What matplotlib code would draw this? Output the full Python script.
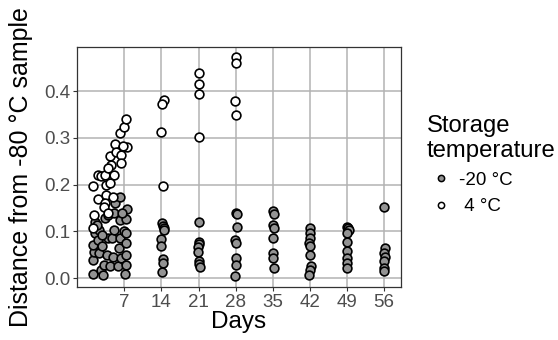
import numpy as np
import matplotlib
matplotlib.use("Agg")
import matplotlib.pyplot as plt
from matplotlib.lines import Line2D

plt.rcParams["font.family"] = ["Liberation Sans", "DejaVu Sans"]

# ── data ─────────────────────────────────────────────────────────────────────
day_ticks = [7, 14, 21, 28, 35, 42, 49, 56]
y_ticks = [0.0, 0.1, 0.2, 0.3, 0.4]

# -20 °C samples: day (jittered as plotted) and distance
minus20_day = [1.0, 1.0, 1.2, 1.0, 1.5, 1.5, 2.0, 2.2, 2.3, 2.5, 3.0, 3.2, 2.7,
               3.7, 3.9, 3.4, 3.9, 4.3, 4.9, 4.7, 5.1, 5.2, 5.1, 5.7, 5.9, 6.1,
               6.1, 6.1, 6.3, 6.9, 7.2, 7.3, 7.3, 7.3, 7.3, 7.3, 7.5, 6.5, 1.8,
               2.7,
               14.1, 14.3, 14.4, 14.4, 14.0, 14.0, 14.3, 14.2, 14.1,
               21.1, 21.0, 21.1, 20.9, 20.9, 21.0, 21.1, 21.2,
               28.0, 28.2, 28.2, 27.9, 28.1, 28.0, 28.1, 27.9,
               35.0, 35.3, 35.1, 35.2, 35.0, 35.0, 35.1, 35.2,
               42.1, 42.0, 42.1, 41.8, 42.0, 42.1, 42.2, 42.0, 41.9,
               49.0, 49.2, 49.3, 49.1, 49.0, 49.0, 49.0, 49.1, 49.0,
               56.0, 56.1, 56.0, 56.2, 56.0, 55.9, 56.0]
minus20_dist = [0.009, 0.038, 0.056, 0.071, 0.096, 0.119, 0.082, 0.103, 0.053,
                0.018, 0.007, 0.028, 0.068, 0.050, 0.085, 0.128, 0.135, 0.025,
                0.046, 0.085, 0.103, 0.160, 0.139, 0.025, 0.064, 0.085, 0.125,
                0.174, 0.043, 0.100, 0.009, 0.028, 0.050, 0.075, 0.096, 0.126,
                0.147, 0.139, 0.114, 0.093,
                0.118, 0.112, 0.108, 0.103, 0.084, 0.068, 0.041, 0.032, 0.012,
                0.121, 0.078, 0.072, 0.066, 0.055, 0.036, 0.030, 0.024,
                0.139, 0.136, 0.109, 0.082, 0.076, 0.043, 0.027, 0.004,
                0.143, 0.136, 0.114, 0.107, 0.086, 0.054, 0.043, 0.021,
                0.107, 0.096, 0.086, 0.075, 0.068, 0.050, 0.025, 0.018, 0.007,
                0.110, 0.107, 0.103, 0.096, 0.078, 0.057, 0.043, 0.032, 0.021,
                0.152, 0.064, 0.054, 0.046, 0.036, 0.021, 0.014]

# 4 °C samples
plus4_day = [1.0, 1.3, 1.0, 2.0, 2.0, 2.5, 3.4, 3.6, 3.5, 3.3, 4.3, 4.5, 5.2,
             5.4, 6.2, 7.0, 7.3, 7.5, 6.3, 6.3, 5.1, 4.2, 3.2, 3.9, 4.9, 3.9,
             6.8,
             14.4, 14.1, 14.0, 14.2,
             21.0, 21.1, 21.0, 21.1,
             28.1, 28.1, 27.9, 28.0]
plus4_dist = [0.198, 0.135, 0.108, 0.169, 0.221, 0.218, 0.221, 0.199, 0.178,
              0.160, 0.261, 0.241, 0.286, 0.270, 0.310, 0.324, 0.340, 0.281,
              0.263, 0.246, 0.221, 0.203, 0.153, 0.139, 0.174, 0.235, 0.283,
              0.381, 0.372, 0.312, 0.197,
              0.440, 0.416, 0.393, 0.301,
              0.473, 0.460, 0.379, 0.348]

groups = ["-20 °C", " 4 °C"]
fills = ["#939393", "white"]

# ── figure ───────────────────────────────────────────────────────────────────
fig = plt.figure(figsize=(5.58, 3.40), dpi=100)
ax = fig.add_axes([0.1385, 0.1568, 0.5796, 0.7058])

ax.plot(minus20_day, minus20_dist, "o", ms=6.3, mfc=fills[0], mec="black",
        mew=1.2, zorder=3)
ax.plot(plus4_day, plus4_dist, "o", ms=6.3, mfc=fills[1], mec="black",
        mew=1.2, zorder=3)

ax.set_xlim(-1.89, 59.14)
ax.set_ylim(-0.0186, 0.4953)
ax.set_xticks(day_ticks)
ax.set_yticks(y_ticks)
ax.set_yticklabels([f"{t:.1f}" for t in y_ticks])

ax.grid(True, color="#b3b3b3", linewidth=1.1)
ax.set_axisbelow(True)
for s in ax.spines.values():
    s.set_color("#333333")
    s.set_linewidth(0.9)

ax.tick_params(axis="both", length=3, width=0.8, color="#333333",
               labelsize=13.5, labelcolor="#4d4d4d", pad=2)

ax.set_xlabel("Days", fontsize=17.5, labelpad=0)
ax.set_ylabel("Distance from -80 °C sample", fontsize=18)
ax.yaxis.set_label_coords(-0.137, 0.5)

handles = [
    Line2D([], [], ls="", marker="o", ms=4.5, mfc=fills[0], mec="black", mew=1.1),
    Line2D([], [], ls="", marker="o", ms=4.5, mfc=fills[1], mec="black", mew=1.1),
]
leg = ax.legend(handles, groups, title="Storage\ntemperature",
                loc="upper left", bbox_to_anchor=(0.765, 0.662),
                bbox_transform=fig.transFigure, frameon=False,
                fontsize=13.5, title_fontsize=17.2, alignment="left",
                handletextpad=0.2, handlelength=1.5, labelspacing=0.5,
                borderaxespad=0, borderpad=0)

fig.savefig("out.png", dpi=100)
